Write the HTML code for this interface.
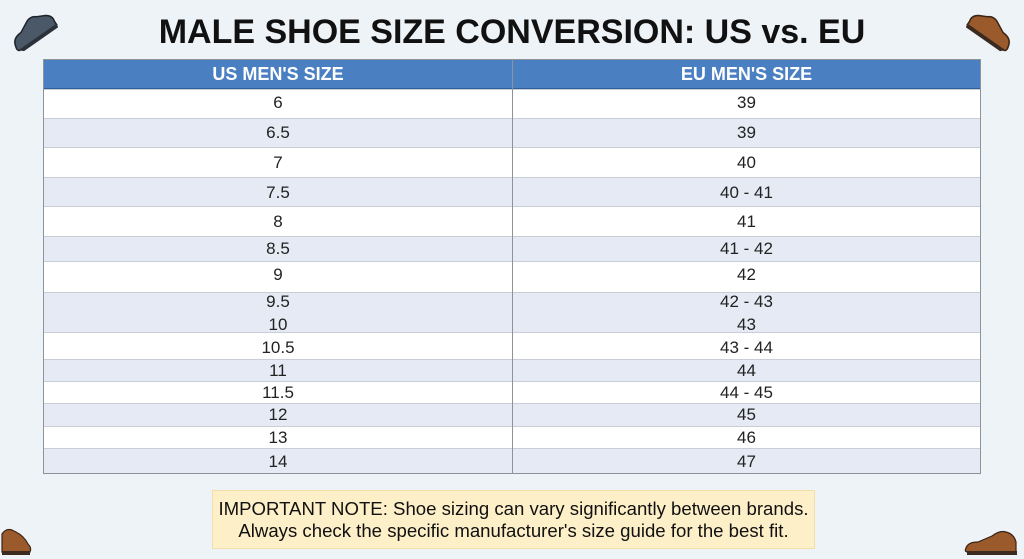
<!DOCTYPE html>
<html><head><meta charset="utf-8"><style>
*{margin:0;padding:0;box-sizing:border-box}
body{width:1024px;height:559px;background:#eef3f8;position:relative;overflow:hidden;font-family:"Liberation Sans",Arial,sans-serif}
.title{position:absolute;left:0;width:1024px;top:13px;text-align:center;font-weight:bold;font-size:34px;color:#111;letter-spacing:0px;line-height:38px}
.tbl{position:absolute;left:43px;top:59px;width:938px;height:415px;border:1px solid #8e939a;background:#fff}
.hdr{position:absolute;left:0;top:0;width:936px;height:29px;background:#4a7fc2;border-bottom:1px solid #2f5f9a}
.h{position:absolute;top:0;line-height:29px;color:#fff;font-weight:bold;font-size:18px;text-align:center}
.row{position:absolute;left:0;width:936px;border-top:1px solid #c9cdd5}
.alt{background:#e5eaf4}
.div{position:absolute;left:468px;top:0;width:1px;height:413px;background:#8e939a}
.c{position:absolute;font-size:17px;color:#222;text-align:center;line-height:20px}
.l{left:0;width:468px}
.r{left:469px;width:467px}
.note{position:absolute;left:212px;top:490px;width:603px;height:59px;background:#fdefc8;border:1px solid #f3dfa8;text-align:center;font-size:18.6px;color:#111;line-height:22px;padding-top:7px;white-space:nowrap}
</style></head><body>
<div class="title">MALE SHOE SIZE CONVERSION: US vs. EU</div>

<svg style="position:absolute;left:4px;top:4px" width="54" height="48" viewBox="0 0 54 48">
<g transform="rotate(-35 27 24)">
<path d="M4 30 Q6 22 16 22 L28 16 Q34 14 38 18 L46 22 Q52 26 50 32 L50 36 L6 36 Q2 36 4 30 Z" fill="#4b5867" stroke="#1d232b" stroke-width="1.5"/>
<path d="M4 35 L50 35 L50 39 L8 39 Z" fill="#2b323b"/>
</g></svg>

<svg style="position:absolute;left:966px;top:4px" width="54" height="48" viewBox="0 0 54 48">
<g transform="rotate(35 27 24)">
<path d="M50 30 Q48 22 38 22 L26 16 Q20 14 16 18 L8 22 Q2 26 4 32 L4 36 L48 36 Q52 36 50 30 Z" fill="#9a5a2c" stroke="#3a2414" stroke-width="1.5"/>
<path d="M50 35 L4 35 L4 39 L46 39 Z" fill="#3a2a20"/>
</g></svg>

<svg style="position:absolute;left:0px;top:526px" width="34" height="32" viewBox="0 0 34 32">
<path d="M2 20 L2 8 Q6 2 12 4 L16 6 Q24 10 28 18 Q32 22 30 26 L2 26 Z" fill="#9a5a2c" stroke="#3a2414" stroke-width="1.2"/>
<rect x="2" y="25" width="28" height="4" fill="#3a2a20"/>
</svg>

<svg style="position:absolute;left:962px;top:526px" width="58" height="32" viewBox="0 0 58 32">
<path d="M4 22 Q6 16 16 16 L30 10 Q38 4 44 6 Q52 8 54 16 L54 26 L6 26 Q2 26 4 22 Z" fill="#9a5a2c" stroke="#3a2414" stroke-width="1.2"/>
<rect x="5" y="25" width="50" height="4" fill="#3a2a20"/>
</svg>

<div class="tbl">
<div class="hdr"><div class="h l">US MEN'S SIZE</div><div class="h r">EU MEN'S SIZE</div></div>
<div class="row" style="top:29px;height:30px"></div>
<div class="row alt" style="top:58px;height:30px"></div>
<div class="row" style="top:87px;height:30px"></div>
<div class="row alt" style="top:117px;height:30px"></div>
<div class="row" style="top:146px;height:31px"></div>
<div class="row alt" style="top:176px;height:26px"></div>
<div class="row" style="top:201px;height:32px"></div>
<div class="row alt" style="top:232px;height:41px"></div>
<div class="row" style="top:272px;height:28px"></div>
<div class="row alt" style="top:299px;height:23px"></div>
<div class="row" style="top:321px;height:23px"></div>
<div class="row alt" style="top:343px;height:24px"></div>
<div class="row" style="top:366px;height:23px"></div>
<div class="row alt" style="top:388px;height:25px"></div>
<div class="div"></div>

<div class="c l" style="top:33px">6</div><div class="c r" style="top:33px">39</div>
<div class="c l" style="top:63px">6.5</div><div class="c r" style="top:63px">39</div>
<div class="c l" style="top:93px">7</div><div class="c r" style="top:93px">40</div>
<div class="c l" style="top:123px">7.5</div><div class="c r" style="top:123px">40 - 41</div>
<div class="c l" style="top:152px">8</div><div class="c r" style="top:152px">41</div>
<div class="c l" style="top:179px">8.5</div><div class="c r" style="top:179px">41 - 42</div>
<div class="c l" style="top:205px">9</div><div class="c r" style="top:205px">42</div>
<div class="c l" style="top:232px">9.5</div><div class="c r" style="top:232px">42 - 43</div>
<div class="c l" style="top:255px">10</div><div class="c r" style="top:255px">43</div>
<div class="c l" style="top:278px">10.5</div><div class="c r" style="top:278px">43 - 44</div>
<div class="c l" style="top:301px">11</div><div class="c r" style="top:301px">44</div>
<div class="c l" style="top:323px">11.5</div><div class="c r" style="top:323px">44 - 45</div>
<div class="c l" style="top:345px">12</div><div class="c r" style="top:345px">45</div>
<div class="c l" style="top:368px">13</div><div class="c r" style="top:368px">46</div>
<div class="c l" style="top:392px">14</div><div class="c r" style="top:392px">47</div>
</div>

<div class="note">IMPORTANT NOTE: Shoe sizing can vary significantly between brands.<br>Always check the specific manufacturer's size guide for the best fit.</div>
</body></html>
